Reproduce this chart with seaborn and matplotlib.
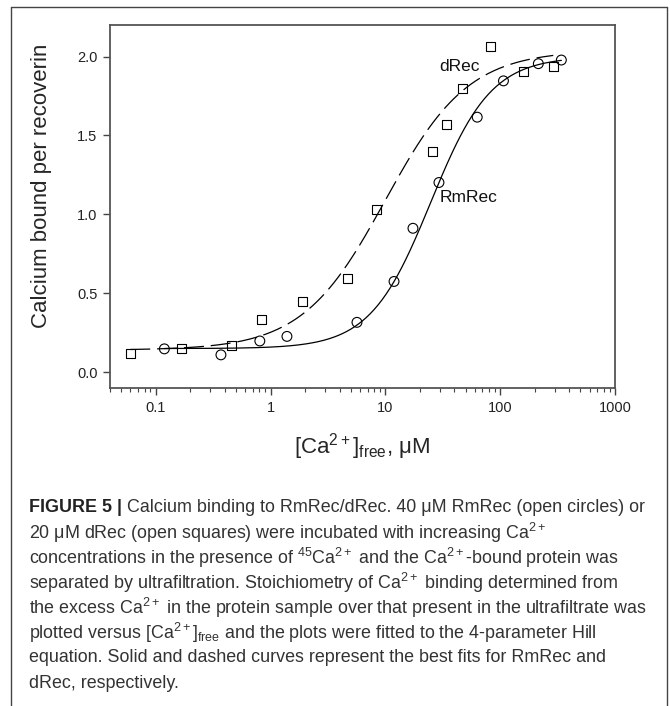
import matplotlib
matplotlib.use("Agg")
import matplotlib.pyplot as plt
import matplotlib.ticker as mticker
from matplotlib.lines import Line2D
import numpy as np
import pandas as pd
import seaborn as sns

rm_conc = [0.119, 0.37, 0.807, 1.39, 5.66, 11.9, 17.4, 29.3, 63.1, 106.8, 215, 341]
rm_bound = [0.148, 0.110, 0.198, 0.227, 0.316, 0.575, 0.912, 1.202, 1.616, 1.846, 1.955, 1.978]

d_conc = [0.06, 0.169, 0.46, 0.83, 1.88, 4.64, 8.45, 25.9, 33.9, 46.8, 81.9, 159.6, 290]
d_bound = [0.118, 0.148, 0.167, 0.337, 0.446, 0.593, 1.031, 1.40, 1.568, 1.795, 2.062, 1.903, 1.936]

# 4-parameter Hill fits (bottom, top, K, n), estimated from the drawn curves
rm_fit = (0.15, 2.00, 24.8, 1.65)
d_fit = (0.14, 2.04, 10.0, 1.20)

x_ticks = [0.1, 1, 10, 100, 1000]
x_tick_labels = ["0.1", "1", "10", "100", "1000"]
y_ticks = [0.0, 0.5, 1.0, 1.5, 2.0]

caption_lines = [
    r" Calcium binding to RmRec/dRec. 40 μM RmRec (open circles) or",
    r"20 μM dRec (open squares) were incubated with increasing Ca$^{2+}$",
    r"concentrations in the presence of $^{45}$Ca$^{2+}$ and the Ca$^{2+}$-bound protein was",
    r"separated by ultrafiltration. Stoichiometry of Ca$^{2+}$ binding determined from",
    r"the excess Ca$^{2+}$ in the protein sample over that present in the ultrafiltrate was",
    r"plotted versus [Ca$^{2+}$]$_{\mathrm{free}}$ and the plots were fitted to the 4-parameter Hill",
    r"equation. Solid and dashed curves represent the best fits for RmRec and",
    r"dRec, respectively.",
]


def hill(x, params):
    bottom, top, k, n = params
    x = np.asarray(x, dtype=float)
    return bottom + (top - bottom) * x**n / (k**n + x**n)


def fit_curve(conc, params) -> pd.DataFrame:
    xs = np.logspace(np.log10(min(conc)), np.log10(max(conc)), 300)
    return pd.DataFrame({"conc": xs, "bound": hill(xs, params)})


def open_markers(ax) -> None:
    pts = ax.collections[-1]
    pts.set_facecolor("none")
    pts.set_edgecolor("black")
    pts.set_linewidth(0.8)


sns.set_style("ticks")
plt.rcParams["font.family"] = ["Liberation Sans", "DejaVu Sans"]
plt.rcParams["mathtext.fontset"] = "custom"
plt.rcParams["mathtext.rm"] = "Liberation Sans"
plt.rcParams["mathtext.it"] = "Liberation Sans:italic"
plt.rcParams["mathtext.bf"] = "Liberation Sans:bold"

fig = plt.figure(figsize=(6.7, 7.06), dpi=100)
ax = fig.add_axes([110 / 670, 1 - 388 / 706, 505 / 670, 363 / 706])

rm_df = pd.DataFrame({"conc": rm_conc, "bound": rm_bound})
d_df = pd.DataFrame({"conc": d_conc, "bound": d_bound})

sns.lineplot(data=fit_curve(rm_conc, rm_fit), x="conc", y="bound", ax=ax,
             color="black", linewidth=0.9)
sns.lineplot(data=fit_curve(d_conc, d_fit), x="conc", y="bound", ax=ax,
             color="black", linewidth=0.9)
ax.lines[-1].set_dashes((16, 5.5))

sns.scatterplot(data=rm_df, x="conc", y="bound", ax=ax, marker="o", s=50, zorder=3)
open_markers(ax)
sns.scatterplot(data=d_df, x="conc", y="bound", ax=ax, marker="s", s=42, zorder=3)
open_markers(ax)

ax.text(44.3, 1.936, "dRec", ha="center", va="center", fontsize=12.5, color="#111")
ax.text(53, 1.11, "RmRec", ha="center", va="center", fontsize=12.5, color="#111")

ax.set_xscale("log")
ax.set_xlim(0.04, 1000)
ax.set_ylim(-0.1, 2.2)
ax.set_xticks(x_ticks)
ax.set_xticklabels(x_tick_labels)
ax.xaxis.set_minor_locator(mticker.LogLocator(base=10, subs=np.arange(2, 10)))
ax.xaxis.set_minor_formatter(mticker.NullFormatter())
ax.set_yticks(y_ticks)
ax.set_yticklabels([f"{v:.1f}" for v in y_ticks])

ax.tick_params(which="major", direction="out", length=5, width=1, colors="#444",
               labelcolor="#222", labelsize=10.5, pad=4)
ax.tick_params(which="minor", direction="out", length=3, width=0.8, colors="#444")
for side in ["top", "right", "left", "bottom"]:
    ax.spines[side].set_visible(True)
    ax.spines[side].set_color("#555")
    ax.spines[side].set_linewidth(1.3)

ax.set_xlabel(r"[Ca$^{2+}$]$_{\mathrm{free}}$, μM", fontsize=16, labelpad=12)
ax.set_ylabel("Calcium bound per recoverin", fontsize=16)
ax.yaxis.set_label_coords(-0.115, 0.556)

# frame around figure panel (open at the bottom)
frame_kw = dict(color="#444", linewidth=1.0, transform=fig.transFigure)
fig.add_artist(Line2D([11 / 670, 667 / 670], [1 - 7 / 706, 1 - 7 / 706], **frame_kw))
fig.add_artist(Line2D([11 / 670, 11 / 670], [0, 1 - 7 / 706], **frame_kw))
fig.add_artist(Line2D([667 / 670, 667 / 670], [0, 1 - 7 / 706], **frame_kw))

# caption
renderer = fig.canvas.get_renderer()
cap_x = 29 / 670
cap_size = 12.9
head = fig.text(cap_x, 1 - 508 / 706, "FIGURE 5 |", fontsize=cap_size, fontweight="bold",
                color="#222", va="center")
head_w = head.get_window_extent(renderer).width / fig.bbox.width
for i, line in enumerate(caption_lines):
    y = 1 - (508 + i * 25.0) / 706
    x = cap_x + head_w if i == 0 else cap_x
    fig.text(x, y, line, fontsize=cap_size, color="#333", va="center")

fig.savefig("out.png", dpi=100)
